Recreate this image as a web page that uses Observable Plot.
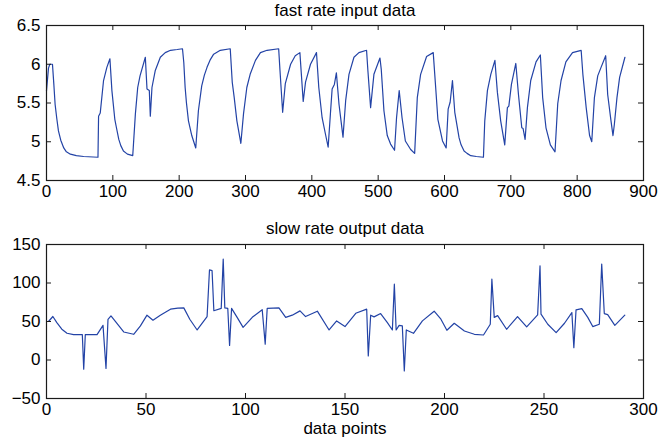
<!DOCTYPE html>
<html><head><meta charset="utf-8">
<script src="https://cdn.jsdelivr.net/npm/d3@7"></script>
<script src="https://cdn.jsdelivr.net/npm/@observablehq/plot@0.6"></script>
<style>
body{margin:0;background:#fff;}
#chart{position:relative;width:659px;height:442px;}
#chart svg{display:block;}
</style></head><body><div id="chart"></div>
<script>
const topTitle = "fast rate input data";
const bottomTitle = "slow rate output data";
const xLabel = "data points";

const topX = [0,3,5,9,11,13,15.5,18,21.5,26,30,36,45,56,77.6,78.5,81,86,91,95.6,98.6,103,105,109,112,116,122,130,134,137.5,141,149,151.5,155,156.5,159,164,171.6,179,187,197,205,207,209,211,214,219,225,229,234,238,242,247,252,262,277,280,283,287,293,297,302,307,315,322.5,332.5,350,352,356,360,368,375,382,387,390.5,398,407,410.5,415.5,420.5,424.6,428,430.6,434,437,441,447,451,456,463.5,471,482.5,484.5,488.6,493.6,502.7,504.7,508.7,513.7,518.7,524.7,527.7,531.7,536,541,549,555,559,564,573,583,586.7,590,597,602.5,605.5,608.5,612,615.5,622,625,629.5,634,639.6,648,658.7,660.7,664.7,669.8,676,679.7,684.7,690.8,694.8,697,700.9,707.5,711.5,716.5,718.5,721.5,725,730,738,744.5,748,753,759.6,766.6,770.7,775.7,783,793,806,808.6,813.6,818.7,822,826,831,836,843,846,851,854,856,860,864,872];
const topY = [5.66,5.95,6.0,6.0,5.75,5.48,5.3,5.14,5.02,4.92,4.87,4.84,4.82,4.81,4.80,5.33,5.37,5.79,5.96,6.07,5.66,5.29,5.2,5.03,4.95,4.88,4.84,4.82,5.36,5.70,5.85,6.09,5.68,5.66,5.33,5.70,5.92,6.09,6.15,6.18,6.19,6.20,6.02,5.70,5.5,5.27,5.08,4.92,5.40,5.72,5.86,5.96,6.06,6.13,6.18,6.20,5.77,5.57,5.27,4.98,5.36,5.70,5.87,6.05,6.15,6.18,6.20,5.92,5.38,5.75,6.0,6.11,6.15,5.52,5.77,6.0,6.15,5.70,5.31,5.10,4.93,5.36,5.68,5.74,5.89,5.48,5.06,5.53,5.87,6.09,6.15,6.18,5.92,5.44,5.87,6.08,5.93,5.40,5.08,4.97,4.89,5.31,5.66,5.31,5.01,4.90,4.85,5.57,5.87,6.10,6.15,5.70,5.29,5.01,4.92,5.42,5.51,5.79,5.38,5.05,4.96,4.88,4.85,4.82,4.81,4.80,5.27,5.66,5.87,6.05,5.64,5.27,4.96,5.44,5.46,5.74,6.01,5.61,5.18,5.17,5.03,5.44,5.79,6.03,6.12,5.57,5.18,4.96,4.87,5.49,5.79,6.03,6.15,6.18,5.87,5.44,5.08,5.0,5.57,5.85,5.96,6.11,5.61,5.27,5.08,5.22,5.57,5.83,6.09];

const botX = [0,1,3.2,5.2,7.7,10.3,13.6,18,18.7,19.5,25.4,28.4,29.9,30.9,32.4,35.4,38.8,43.8,47.2,50.5,53.5,57.2,62.3,66,69,72,75.7,80.7,81.9,83.2,84.1,87.8,88.8,89.6,91.1,92,93,95.8,98.8,103.4,108.4,109.9,110.9,116.8,120.2,123.5,127.4,130.2,136.1,142,145.8,150,155.4,160.9,161.7,162.9,164.6,167.9,171.3,173.8,174.8,175.7,177.2,178.8,179.8,180.8,184.4,188.9,194.8,198.2,201.2,204.9,210,215,219.6,223,223.8,225,226.7,231.2,236.7,241.3,246.8,248,248.5,251.9,256.1,260.3,264,265,266.1,269,272,274.5,277.8,279,280.3,282,285.6,290.6];
const botY = [50,50,56.5,48.6,40,34.7,33,33,-12,33,33,45,-11,52.8,57.2,47.6,36.4,33.4,44.3,58.2,51.7,58.2,66,67.3,67.7,52.9,39,56.4,117,116,64,67,131,67.7,67,19,67,55.4,42.4,55.4,65.3,20.6,67,67.7,55.4,58.2,63.8,56.4,63.4,39,50.8,43.4,60.7,66,5.2,58.2,56,60.3,48.6,39,98.5,39,45,44.3,-14.3,39,34.7,50.8,63.4,53,38.6,47.7,37.7,33.4,32.5,46.4,105,55.4,57.6,39.9,56.4,43,58.6,122.4,59.5,46.4,35.6,47.7,61.6,16,65.1,66.8,55.4,43.4,46.4,124.6,60.3,59,45,58.2];

const topXTicks = [0,100,200,300,400,500,600,700,800,900];
const topYTicks = [4.5,5,5.5,6,6.5];
const botXTicks = [0,50,100,150,200,250,300];
const botYTicks = [-50,0,50,100,150];

const W = 659, ML = 46, MR = 16, FS = 17, AX = "#1a1a1a", LINE = "#2343a6";
const fmt = d => d < 0 ? "\u2212" + Math.abs(d) : String(d);

function panel({xs, ys, xDomain, yDomain, xTicks, yTicks, title, label, height, marginTop, marginBottom, titleDy}) {
  const data = xs.map((x, i) => ({x, y: ys[i]}));
  const innerH = height - marginTop - marginBottom;
  const innerW = W - ML - MR;
  const T = 5;
  const marks = [
    Plot.line(data, {x: "x", y: "y", stroke: LINE, strokeWidth: 1.2}),
    Plot.tickX(xTicks, {x: d => d, insetTop: innerH - T, stroke: AX}),
    Plot.tickX(xTicks, {x: d => d, insetBottom: innerH - T, stroke: AX}),
    Plot.tickY(yTicks, {y: d => d, insetRight: innerW - T, stroke: AX}),
    Plot.tickY(yTicks, {y: d => d, insetLeft: innerW - T, stroke: AX}),
    Plot.frame({stroke: AX, strokeWidth: 1.2}),
    Plot.axisX(xTicks, {tickSize: 0, tickPadding: 4, fontSize: FS, label: null, tickFormat: fmt}),
    Plot.axisY(yTicks, {tickSize: 0, tickPadding: 6, fontSize: FS, label: null, tickFormat: fmt}),
    Plot.text([title], {text: d => d, frameAnchor: "top", lineAnchor: "middle", dy: titleDy, fontSize: FS, fill: "#000"})
  ];
  if (label) marks.push(Plot.text([label], {text: d => d, frameAnchor: "bottom", lineAnchor: "middle", dy: 30, fontSize: FS, fill: "#000"}));
  return Plot.plot({
    width: W, height, marginLeft: ML, marginRight: MR, marginTop, marginBottom,
    x: {domain: xDomain}, y: {domain: yDomain},
    style: {fontFamily: "'Liberation Sans', Arial, sans-serif", color: "#000", background: "#fff", overflow: "visible"},
    marks
  });
}

const chart = document.getElementById("chart");
chart.append(panel({xs: topX, ys: topY, xDomain: [0, 900], yDomain: [4.5, 6.5], xTicks: topXTicks, yTicks: topYTicks,
  title: topTitle, height: 205, marginTop: 25, marginBottom: 25, titleDy: -15}));
chart.append(panel({xs: botX, ys: botY, xDomain: [0, 300], yDomain: [-50, 150], xTicks: botXTicks, yTicks: botYTicks,
  title: bottomTitle, label: xLabel, height: 237, marginTop: 39, marginBottom: 44, titleDy: -16}));
</script></body></html>
